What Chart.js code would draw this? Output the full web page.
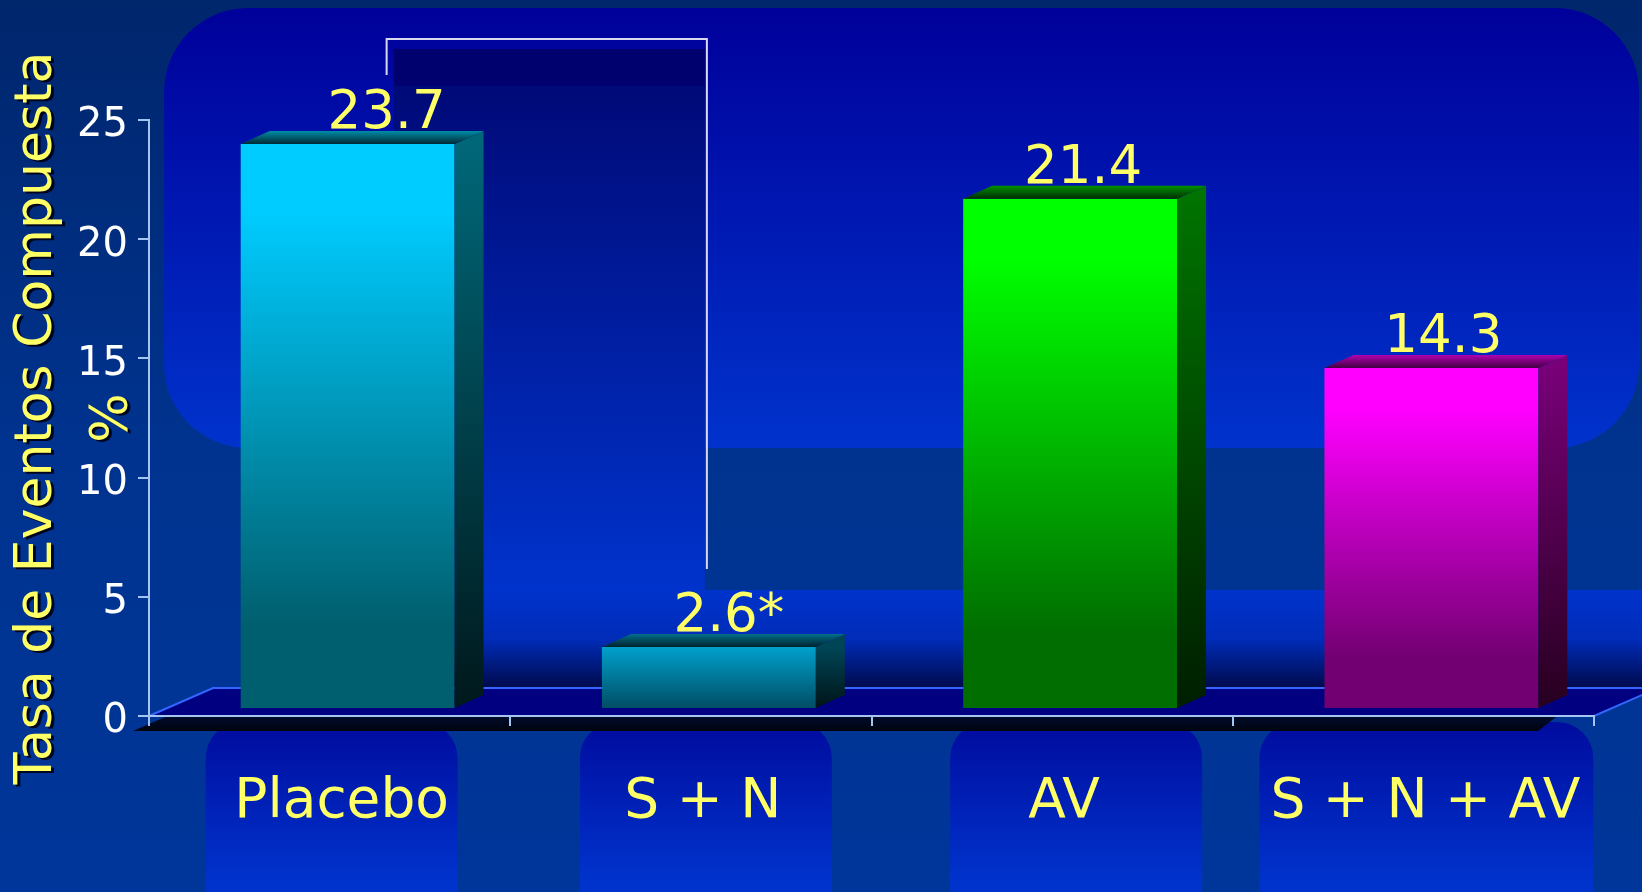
<!DOCTYPE html>
<html>
<head>
<meta charset="utf-8">
<title>Tasa de Eventos Compuesta</title>
<script src="https://cdn.jsdelivr.net/npm/chart.js@4.4.1/dist/chart.umd.min.js"></script>
<style>
  html, body { margin: 0; padding: 0; background: #00308a; overflow: hidden; }
  canvas { display: block; }
</style>
</head>
<body>
<canvas id="eventsChart" width="1642" height="892"></canvas>
<script>
const categories = ['Placebo', 'S + N', 'AV', 'S + N + AV'];
const rates = [23.7, 2.6, 21.4, 14.3];
const rateMarks = ['', '*', '', ''];
const yTicks = [0, 5, 10, 15, 20, 25];
const yTitle = ['Tasa de Eventos Compuesta', '%'];

// front top, front bottom, side top, side bottom, lid back, lid front
const barFaces = [
  ['#00CCFF', '#005F6E', '#006778', '#00181C', '#008DA6', '#002A36'],
  ['#00A0CC', '#004C62', '#004556', '#001418', '#00708A', '#00222E'],
  ['#00FF00', '#006E00', '#007300', '#001E00', '#009000', '#002C00'],
  ['#FF00FF', '#720072', '#780078', '#26001F', '#B000B0', '#400040']
];
const labelNudge = [39, 20, 13, 12];
const boxNudge = [2, 15, 24, 13];

const YELLOW = '#FFFF66';
const AXIS = '#A6C4F0';
const FONT = "'DejaVu Sans', Verdana, sans-serif";
const shift = { x: 18, y: -7 };   // front faces sit a little behind the axis line
const depth = { x: 29, y: 13 };

function frontFill(c) {
  const chart = c.chart;
  const f = barFaces[c.dataIndex];
  if (!chart.chartArea) return f[0];
  const y = chart.scales.y;
  const top = y.getPixelForValue(rates[c.dataIndex]);
  const base = y.getPixelForValue(0);
  const g = chart.ctx.createLinearGradient(0, top, 0, base);
  if (base - top > 150) {
    g.addColorStop(0, f[0]); g.addColorStop(0.12, f[0]);
    g.addColorStop(0.85, f[1]); g.addColorStop(1, f[1]);
  } else {
    g.addColorStop(0, f[0]); g.addColorStop(1, f[1]);
  }
  return g;
}

const backdrop = {
  id: 'backdrop',
  beforeDraw(chart) {
    const { ctx, width, height, chartArea: a } = chart;
    const bars = chart.getDatasetMeta(0).data;
    const boxLeft = bars[0].x + shift.x + labelNudge[0] + 7;
    const boxRight = bars[1].x + shift.x - 4;
    const floorBack = a.bottom - 28;
    ctx.save();

    let g = ctx.createLinearGradient(0, 0, 0, height);
    g.addColorStop(0, '#00266C'); g.addColorStop(0.5, '#00338F'); g.addColorStop(1, '#00369A');
    ctx.fillStyle = g;
    ctx.fillRect(0, 0, width, height);

    // rounded panel at the top
    g = ctx.createLinearGradient(0, 8, 0, 448);
    g.addColorStop(0, '#00009A'); g.addColorStop(1, '#0033CC');
    ctx.fillStyle = g;
    ctx.beginPath(); ctx.roundRect(164, 8, 1475, 440, 84); ctx.fill();

    // back wall
    g = ctx.createLinearGradient(0, 590, 0, floorBack);
    g.addColorStop(0, '#0033CC'); g.addColorStop(0.5, '#002CB8'); g.addColorStop(1, '#000A4C');
    ctx.fillStyle = g;
    ctx.fillRect(boxLeft, 590, width - boxLeft, floorBack - 590);

    // dark box under the bracket
    g = ctx.createLinearGradient(0, 49, 0, 590);
    g.addColorStop(0, '#00006E'); g.addColorStop(0.066, '#00006E');
    g.addColorStop(0.07, '#000A78'); g.addColorStop(1, '#0033CC');
    ctx.fillStyle = g;
    ctx.fillRect(boxLeft, 49, boxRight - boxLeft, 541);

    // label boxes
    const xs = chart.scales.x;
    ctx.font = `55px ${FONT}`;
    categories.forEach((c, i) => {
      const w = Math.max(252, ctx.measureText(c).width + 24);
      const cx = xs.getPixelForValue(i) + boxNudge[i];
      g = ctx.createLinearGradient(0, 722, 0, 880);
      g.addColorStop(0, '#000C9E'); g.addColorStop(1, '#0033CC');
      ctx.fillStyle = g;
      ctx.beginPath(); ctx.roundRect(cx - w / 2, 722, w, height - 690, 36); ctx.fill();
    });

    // floor
    ctx.fillStyle = '#000080';
    ctx.beginPath();
    ctx.moveTo(a.left, a.bottom); ctx.lineTo(a.left + 64, floorBack);
    ctx.lineTo(a.right + 64, floorBack); ctx.lineTo(a.right, a.bottom);
    ctx.closePath(); ctx.fill();
    ctx.strokeStyle = '#3366FF'; ctx.lineWidth = 2;
    ctx.beginPath();
    ctx.moveTo(a.left, a.bottom); ctx.lineTo(a.left + 64, floorBack);
    ctx.lineTo(a.right + 64, floorBack); ctx.lineTo(a.right, a.bottom);
    ctx.stroke();

    // slab shadow under the axis
    g = ctx.createLinearGradient(0, a.bottom, 0, a.bottom + 15);
    g.addColorStop(0, '#000C2C'); g.addColorStop(1, '#00040F');
    ctx.fillStyle = g;
    ctx.beginPath();
    ctx.moveTo(a.left + 16, a.bottom + 1); ctx.lineTo(a.right - 38, a.bottom + 1);
    ctx.lineTo(a.right - 56, a.bottom + 15); ctx.lineTo(a.left - 16, a.bottom + 15);
    ctx.closePath(); ctx.fill();

    // bracket between Placebo and S + N
    ctx.strokeStyle = '#D8D8F0'; ctx.lineWidth = 2;
    ctx.beginPath();
    ctx.moveTo(boxLeft - 7, 75); ctx.lineTo(boxLeft - 7, 39);
    ctx.lineTo(boxRight + 2, 39); ctx.lineTo(boxRight + 2, 569);
    ctx.stroke();
    ctx.restore();
  }
};

const boxes = {
  id: 'boxes',
  beforeDatasetsDraw(chart) {
    chart.ctx.save();
    chart.ctx.translate(shift.x, shift.y);
  },
  afterDatasetsDraw(chart) {
    const ctx = chart.ctx;
    const bars = chart.getDatasetMeta(0).data;
    bars.forEach((bar, i) => {
      const { x, y, base, width } = bar.getProps(['x', 'y', 'base', 'width'], true);
      const f = barFaces[i];
      const l = x - width / 2, r = x + width / 2;
      let g = ctx.createLinearGradient(0, y, 0, base);
      g.addColorStop(0, f[2]); g.addColorStop(1, f[3]);
      ctx.fillStyle = g;
      ctx.beginPath();
      ctx.moveTo(r, y); ctx.lineTo(r + depth.x, y - depth.y);
      ctx.lineTo(r + depth.x, base - depth.y); ctx.lineTo(r, base);
      ctx.closePath(); ctx.fill();

      g = ctx.createLinearGradient(0, y - depth.y, 0, y);
      g.addColorStop(0, f[4]); g.addColorStop(1, f[5]);
      ctx.fillStyle = g;
      ctx.beginPath();
      ctx.moveTo(l, y); ctx.lineTo(l + depth.x, y - depth.y);
      ctx.lineTo(r + depth.x, y - depth.y); ctx.lineTo(r, y);
      ctx.closePath(); ctx.fill();
    });
    ctx.restore();

    ctx.save();
    ctx.fillStyle = YELLOW;
    ctx.font = `53px ${FONT}`;
    ctx.textAlign = 'center';
    ctx.textBaseline = 'alphabetic';
    bars.forEach((bar, i) => {
      ctx.fillText(rates[i].toFixed(1) + rateMarks[i],
        bar.x + shift.x + labelNudge[i], bar.y + shift.y - depth.y - 3);
    });
    ctx.restore();
  }
};

// yellow axis title carries a dark drop shadow
const titleShadow = {
  id: 'titleShadow',
  afterLayout(chart) {
    const s = chart.scales.y;
    if (s._shadowed) return;
    const draw = s.drawTitle;
    s.drawTitle = function () {
      const c = this.ctx;
      c.save();
      c.shadowColor = 'rgba(0,0,20,0.9)';
      c.shadowOffsetX = 3; c.shadowOffsetY = 2;
      draw.apply(this, arguments);
      c.restore();
    };
    s._shadowed = true;
  }
};

new Chart(document.getElementById('eventsChart'), {
  type: 'bar',
  data: {
    labels: categories,
    datasets: [{
      data: rates,
      backgroundColor: frontFill,
      borderWidth: 0,
      barPercentage: 0.592,
      categoryPercentage: 1,
      clip: false
    }]
  },
  options: {
    responsive: false,
    animation: false,
    layout: { padding: { top: 120, right: 48, left: 0, bottom: 0 } },
    plugins: { legend: { display: false }, tooltip: { enabled: false } },
    scales: {
      x: {
        grid: { drawOnChartArea: false, tickLength: 10, color: AXIS, lineWidth: 2, offset: true },
        border: { color: AXIS, width: 2 },
        ticks: { color: YELLOW, font: { family: FONT, size: 55 }, padding: 44, labelOffset: 12, maxRotation: 0, autoSkip: false },
        afterFit: s => { s.height = 176; }
      },
      y: {
        min: 0, max: 25,
        afterBuildTicks: s => { s.ticks = yTicks.map(v => ({ value: v })); },
        grid: { drawOnChartArea: false, tickLength: 11, color: AXIS, lineWidth: 2 },
        border: { color: AXIS, width: 2 },
        ticks: { color: '#FFFFFF', font: { family: FONT, size: 40 }, padding: 10, labelOffset: 6 },
        title: { display: true, text: yTitle, color: YELLOW, font: { family: FONT, size: 52, lineHeight: 1.46 }, padding: 0 },
        afterFit: s => { s.width = 149; }
      }
    }
  },
  plugins: [backdrop, boxes, titleShadow]
});
</script>
</body>
</html>
